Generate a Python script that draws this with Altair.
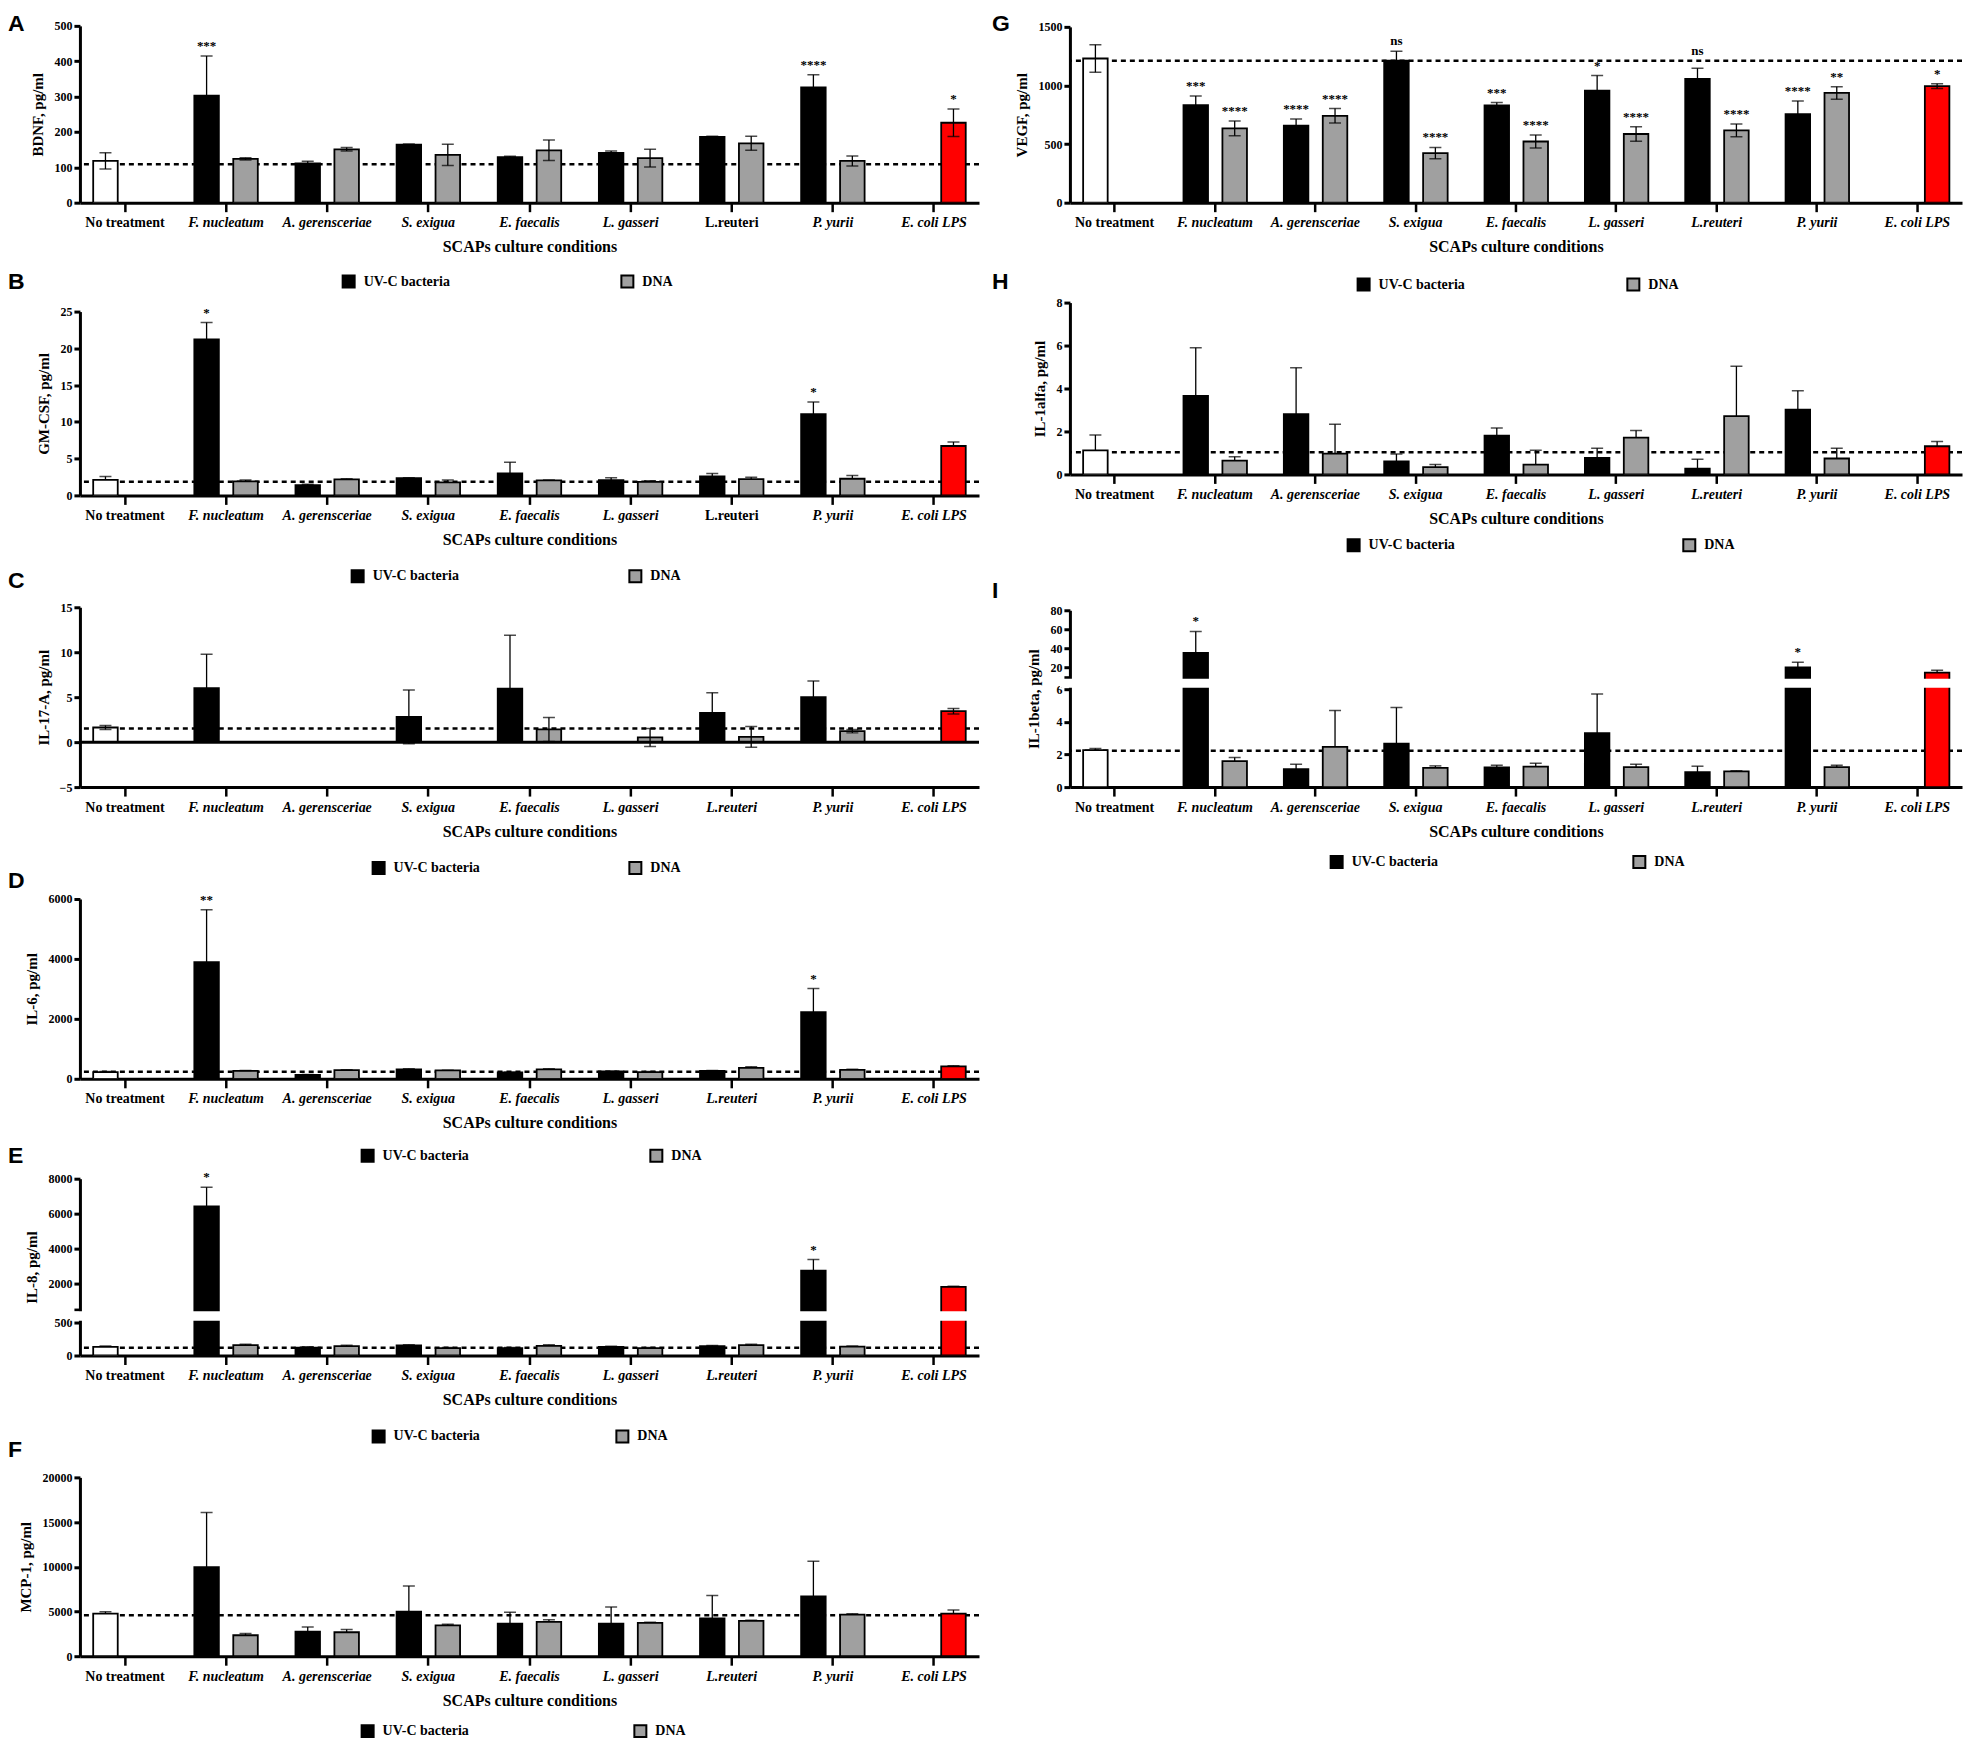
import json
import altair as alt
import pandas as pd

SERIF = "Liberation Serif"
SANS = "Liberation Sans"

CATS = ["No treatment", "F. nucleatum", "A. gerensceriae", "S. exigua", "E. faecalis",
        "L. gasseri", "L.reuteri", "P. yurii", "E. coli LPS"]
SPECIES = CATS[1:8]
SERIES = ["UV-C bacteria", "DNA", "No treatment", "LPS"]
SERIES_COLORS = ["#000000", "#a0a0a0", "#ffffff", "#ff0000"]
XTITLE = "SCAPs culture conditions"

# ---------------- A: BDNF ----------------
A_nt, A_nt_sd = 118, 23
A_uv = [303, 111, 164, 129, 141, 186, 326]
A_uv_sd = [112, 6, 2, 2, 5, 2, 36]
A_dna = [124, 151, 135, 148, 126, 168, 118]
A_dna_sd = [3, 5, 30, 29, 25, 20, 14]
A_lps, A_lps_sd = 226, 39
A_ref = 109
A_uv_sig = ["***", "", "", "", "", "", "****"]
A_dna_sig = ["", "", "", "", "", "", ""]
A_lps_sig = "*"

# ---------------- B: GM-CSF ----------------
B_nt, B_nt_sd = 2.12, 0.45
B_uv = [21.2, 1.4, 2.35, 3.0, 2.08, 2.57, 11.05]
B_uv_sd = [2.3, 0.1, 0.05, 1.5, 0.32, 0.41, 1.65]
B_dna = [1.9, 2.17, 1.76, 2.03, 1.85, 2.2, 2.26]
B_dna_sd = [0.2, 0.09, 0.32, 0.07, 0.14, 0.28, 0.44]
B_lps, B_lps_sd = 6.72, 0.55
B_ref = 1.85
B_uv_sig = ["*", "", "", "", "", "", "*"]
B_dna_sig = ["", "", "", "", "", "", ""]
B_lps_sig = ""

# ---------------- C: IL-17-A ----------------
C_nt, C_nt_sd = 1.63, 0.22
C_uv = [6.0, None, 2.81, 5.96, None, 3.26, 5.0]
C_uv_sd = [3.78, None, 3.0, 5.94, None, 2.22, 1.81]
C_dna = [None, None, None, 1.41, 0.52, 0.59, 1.22]
C_dna_sd = [None, None, None, 1.33, 1.0, 1.15, 0.19]
C_lps, C_lps_sd = 3.44, 0.3
C_ref = 1.52
C_uv_sig = ["", "", "", "", "", "", ""]
C_dna_sig = ["", "", "", "", "", "", ""]
C_lps_sig = ""

# ---------------- D: IL-6 ----------------
D_nt, D_nt_sd = 220, 25
D_uv = [3889, 133, 311, 211, 244, 267, 2222]
D_uv_sd = [1755, 11, 22, 11, 11, 11, 789]
D_dna = [267, 289, 278, 311, 222, 367, 300]
D_dna_sd = [11, 11, 11, 22, 22, 33, 22]
D_lps, D_lps_sd = 411, 22
D_ref = 233
D_uv_sig = ["**", "", "", "", "", "", "*"]
D_dna_sig = ["", "", "", "", "", "", ""]
D_lps_sig = ""

# ---------------- E: IL-8 (broken axis) ----------------
E_nt, E_nt_sd = 131, 15
E_uv = [6424, 121, 152, 111, 131, 141, 2760]
E_uv_sd = [1082, 10, 10, 10, 10, 11, 626]
E_dna = [157, 141, 111, 146, 111, 157, 136]
E_dna_sd = [15, 16, 10, 16, 10, 15, 10]
E_lps, E_lps_sd = 1830, 37
E_ref = 116
E_uv_sig = ["*", "", "", "", "", "", "*"]
E_dna_sig = ["", "", "", "", "", "", ""]
E_lps_sig = ""
E_break = [500, 538]

# ---------------- F: MCP-1 ----------------
F_nt, F_nt_sd = 4758, 223
F_uv = [9963, 2751, 4981, 3643, 3643, 4238, 6691]
F_uv_sd = [6096, 520, 2863, 1264, 1859, 2565, 3941]
F_dna = [2342, 2677, 3457, 3829, 3717, 3941, 4647]
F_dna_sd = [186, 297, 112, 260, 75, 74, 111]
F_lps, F_lps_sd = 4758, 409
F_ref = 4572
F_uv_sig = ["", "", "", "", "", "", ""]
F_dna_sig = ["", "", "", "", "", "", ""]
F_lps_sig = ""

# ---------------- G: VEGF ----------------
G_nt, G_nt_sd = 1230, 118
G_uv = [832, 657, 1212, 829, 956, 1057, 756]
G_uv_sd = [79, 56, 79, 25, 129, 90, 112]
G_dna = [634, 741, 423, 522, 586, 617, 936]
G_dna_sd = [62, 62, 48, 56, 62, 54, 54]
G_lps, G_lps_sd = 995, 20
G_ref = 1210
G_uv_sig = ["***", "****", "ns", "***", "*", "ns", "****"]
G_dna_sig = ["****", "****", "****", "****", "****", "****", "**"]
G_lps_sig = "*"
G_uv_sig_y = [None, None, None, None, None, 1207, None]

# ---------------- H: IL-1alfa ----------------
H_nt, H_nt_sd = 1.12, 0.72
H_uv = [3.66, 2.81, 0.61, 1.81, 0.77, 0.27, 3.02]
H_uv_sd = [2.24, 2.16, 0.34, 0.35, 0.45, 0.44, 0.88]
H_dna = [0.64, 0.97, 0.34, 0.46, 1.71, 2.71, 0.74]
H_dna_sd = [0.18, 1.36, 0.12, 0.67, 0.34, 2.33, 0.48]
H_lps, H_lps_sd = 1.31, 0.22
H_ref = 1.03
H_uv_sig = ["", "", "", "", "", "", ""]
H_dna_sig = ["", "", "", "", "", "", ""]
H_lps_sig = ""

# ---------------- I: IL-1beta (broken axis) ----------------
I_nt, I_nt_sd = 2.26, 0.1
I_uv = [35.4, 1.1, 2.66, 1.2, 3.31, 0.91, 20.35]
I_uv_sd = [22.5, 0.3, 2.22, 0.14, 2.4, 0.37, 5.25]
I_dna = [1.59, 2.46, 1.18, 1.26, 1.22, 0.96, 1.22]
I_dna_sd = [0.22, 2.24, 0.12, 0.2, 0.18, 0.04, 0.12]
I_lps, I_lps_sd = 14.7, 2.5
I_ref = 2.22
I_uv_sig = ["*", "", "", "", "", "", "*"]
I_dna_sig = ["", "", "", "", "", "", ""]
I_lps_sig = ""
I_break = [6, 10]


def make_df(nt, nt_sd, uv, uv_sd, dna, dna_sd, lps, lps_sd, uv_sig, dna_sig, lps_sig, uv_sig_y=None):
    rows = []

    def add(cat, series, slot, v, sd, sig, sy=None):
        if v is None:
            return
        sd = sd or 0
        rows.append(dict(cat=cat, series=series, slot=slot, v=v, lo=v - sd, hi=v + sd,
                         sig=sig, sig_y=(sy if sy is not None else v + sd)))

    add("No treatment", "No treatment", "a", nt, nt_sd, "")
    for i, c in enumerate(SPECIES):
        sy = uv_sig_y[i] if uv_sig_y else None
        add(c, "UV-C bacteria", "a", uv[i], uv_sd[i], uv_sig[i], sy)
        add(c, "DNA", "b", dna[i], dna_sd[i], dna_sig[i])
    add("E. coli LPS", "LPS", "b", lps, lps_sd, lps_sig)
    return pd.DataFrame(rows)


def panel(df, ydom, yticks, w, h, yrange, *, ytitle, legend, title, ref, normal=("No treatment",),
          zero=False, brk=None, hide_tick=None, err_both=False):
    xscale = alt.Scale(domain=CATS, paddingInner=0.23, paddingOuter=0.06)
    oscale = alt.Scale(domain=["a", "b"], paddingInner=0.37, paddingOuter=0.185)
    cond = {"condition": {"test": "indexof(%s, datum.value) >= 0" % json.dumps(list(normal)),
                          "value": "normal"}, "value": "italic"}
    xaxis = alt.Axis(title=XTITLE, labelAngle=0, labelFont=SERIF, labelFontSize=14,
                     labelFontWeight="bold", labelFontStyle=cond, labelColor="black",
                     labelPadding=4, labelLimit=0, tickSize=9, tickWidth=2.5, tickColor="black",
                     domainColor="black", domainWidth=3, titleFont=SERIF, titleFontSize=16,
                     titleFontWeight="bold", titleColor="black", titlePadding=9, grid=False)
    yaxis_kw = dict(values=yticks, grid=False, domainColor="black", domainWidth=3, tickColor="black",
                    tickWidth=3, tickSize=6, labelFont=SERIF, labelFontSize=12, labelFontWeight="bold",
                    labelColor="black", labelPadding=2, format="d",
                    title=ytitle, titleFont=SERIF, titleFontSize=15, titleFontWeight="bold",
                    titleColor="black", titlePadding=8)
    if hide_tick is not None:
        yaxis_kw.update(labelExpr="datum.value == %s ? '' : datum.label" % hide_tick)
    yaxis = alt.Axis(**yaxis_kw)
    yscale = alt.Scale(domain=ydom, range=yrange, nice=False, zero=False)

    X = alt.X("cat:N", scale=xscale, axis=xaxis)
    XO = alt.XOffset("slot:N", scale=oscale)

    lx, ly, cp = legend
    leg = alt.Legend(values=["UV-C bacteria", "DNA"], orient="none", legendX=lx, legendY=ly,
                     direction="horizontal", title=None, symbolType="square", symbolSize=144,
                     symbolStrokeColor="black", symbolStrokeWidth=2, labelFont=SERIF,
                     labelFontSize=14, labelFontWeight="bold", labelColor="black",
                     labelOffset=8, columnPadding=cp)
    color = alt.Color("series:N", scale=alt.Scale(domain=SERIES, range=SERIES_COLORS), legend=leg)

    base = alt.Chart(df)
    layers = [
        alt.Chart(pd.DataFrame({"ref": [ref]})).mark_rule(
            color="black", strokeWidth=2.5, strokeDash=[5, 4], clip=True).encode(
            y=alt.Y("ref:Q", scale=yscale, axis=yaxis)),
        base.mark_bar(stroke="black", strokeWidth=1.8, clip=True).encode(
            x=X, xOffset=XO, y=alt.Y("v:Q", scale=yscale, axis=yaxis), color=color),
        base.mark_rule(color="black", strokeWidth=1.3, clip=True).encode(
            x=X, xOffset=XO, y=alt.Y("lo:Q" if err_both else "v:Q", scale=yscale, axis=yaxis), y2="hi:Q"),
        base.mark_tick(color="black", thickness=1.5, size=12, orient="horizontal", clip=True).encode(
            x=X, xOffset=XO, y=alt.Y("hi:Q", scale=yscale, axis=yaxis)),
    ]
    if err_both:
        layers.append(base.mark_tick(color="black", thickness=1.5, size=12, orient="horizontal",
                                     clip=True).encode(
            x=X, xOffset=XO, y=alt.Y("lo:Q", scale=yscale, axis=yaxis)))
    if brk is not None:
        b0, b1 = brk
        span = b1 - b0
        gdf = pd.DataFrame({"g0": [b0 + 0.13 * span], "g1": [b1 - 0.13 * span]})
        layers.append(alt.Chart(gdf).mark_rect(color="white").encode(
            x=alt.value(-10), x2=alt.value(w + 2),
            y=alt.Y("g0:Q", scale=yscale, axis=yaxis), y2="g1:Q"))
    if zero:
        layers.append(alt.Chart(pd.DataFrame({"z": [0]})).mark_rule(
            color="black", strokeWidth=3).encode(y=alt.Y("z:Q", scale=yscale, axis=yaxis)))
    sdf = df[df["sig"] != ""]
    if len(sdf):
        layers.append(alt.Chart(sdf).mark_text(font=SERIF, fontSize=13, fontWeight="bold", color="black",
                                               baseline="middle", dy=-10).encode(
            x=X, xOffset=XO, y=alt.Y("sig_y:Q", scale=yscale, axis=yaxis), text="sig:N"))
    letter, dx, dy = title
    return alt.layer(*layers).properties(
        width=w, height=h,
        title=alt.TitleParams(text=letter, anchor="start", frame="group", font=SANS,
                              fontSize=23, fontWeight="bold", color="black",
                              offset=0, dx=dx, dy=dy))


WL = 900
WR = 893
LDX = -72
RDX = -78

dfA = make_df(A_nt, A_nt_sd, A_uv, A_uv_sd, A_dna, A_dna_sd, A_lps, A_lps_sd, A_uv_sig, A_dna_sig, A_lps_sig)
dfB = make_df(B_nt, B_nt_sd, B_uv, B_uv_sd, B_dna, B_dna_sd, B_lps, B_lps_sd, B_uv_sig, B_dna_sig, B_lps_sig)
dfC = make_df(C_nt, C_nt_sd, C_uv, C_uv_sd, C_dna, C_dna_sd, C_lps, C_lps_sd, C_uv_sig, C_dna_sig, C_lps_sig)
dfD = make_df(D_nt, D_nt_sd, D_uv, D_uv_sd, D_dna, D_dna_sd, D_lps, D_lps_sd, D_uv_sig, D_dna_sig, D_lps_sig)
dfE = make_df(E_nt, E_nt_sd, E_uv, E_uv_sd, E_dna, E_dna_sd, E_lps, E_lps_sd, E_uv_sig, E_dna_sig, E_lps_sig)
dfF = make_df(F_nt, F_nt_sd, F_uv, F_uv_sd, F_dna, F_dna_sd, F_lps, F_lps_sd, F_uv_sig, F_dna_sig, F_lps_sig)
dfG = make_df(G_nt, G_nt_sd, G_uv, G_uv_sd, G_dna, G_dna_sd, G_lps, G_lps_sd, G_uv_sig, G_dna_sig, G_lps_sig,
              G_uv_sig_y)
dfH = make_df(H_nt, H_nt_sd, H_uv, H_uv_sd, H_dna, H_dna_sd, H_lps, H_lps_sd, H_uv_sig, H_dna_sig, H_lps_sig)
dfI = make_df(I_nt, I_nt_sd, I_uv, I_uv_sd, I_dna, I_dna_sd, I_lps, I_lps_sd, I_uv_sig, I_dna_sig, I_lps_sig)

pA = panel(dfA, [0, 500], [0, 100, 200, 300, 400, 500], WL, 177, [177, 0], ytitle="BDNF, pg/ml",
           normal=("No treatment", "L.reuteri"), legend=(262, 249, 167), ref=A_ref, title=("A", LDX, 16),
           err_both=True)
pB = panel(dfB, [0, 25], [0, 5, 10, 15, 20, 25], WL, 193, [193, 9], ytitle="GM-CSF, pg/ml",
           normal=("No treatment", "L.reuteri"), legend=(271, 267, 166), ref=B_ref, title=("B", LDX, -9))
pC = panel(dfC, [-5, 15], [-5, 0, 5, 10, 15], WL, 192, [192, 12], ytitle="IL-17-A, pg/ml",
           legend=(292, 266, 145), ref=C_ref, zero=True, title=("C", LDX, -2), err_both=True)
pD = panel(dfD, [0, 6000], [0, 2000, 4000, 6000], WL, 192, [192, 12], ytitle="IL-6, pg/ml",
           legend=(281, 262, 177), ref=D_ref, title=("D", LDX, 6))
pE = panel(dfE, [0, E_break[0], E_break[1], 8000], [0, 500, 538, 2000, 4000, 6000, 8000], WL, 177,
           [177, 144, 131, 0], brk=E_break, hide_tick=538, ytitle="IL-8, pg/ml",
           legend=(292, 251, 132), ref=E_ref, title=("E", LDX, -3))
pF = panel(dfF, [0, 20000], [0, 5000, 10000, 15000, 20000], WL, 201, [201, 22], ytitle="MCP-1, pg/ml",
           legend=(281, 269, 161), ref=F_ref, title=("F", LDX, 7))

pG = panel(dfG, [0, 1500], [0, 500, 1000, 1500], WR, 177, [177, 1], ytitle="VEGF,  pg/ml",
           legend=(287, 252, 158), ref=G_ref, title=("G", RDX, 15), err_both=True)
pH = panel(dfH, [0, 8], [0, 2, 4, 6, 8], WR, 172, [172, 0], ytitle="IL-1alfa, pg/ml",
           legend=(277, 236, 224), ref=H_ref, title=("H", RDX, -3))
pI = panel(dfI, [0, I_break[0], I_break[1], 80], [0, 2, 4, 6, 10, 20, 40, 60, 80], WR, 192,
           [192, 94, 82, 15], brk=I_break, hide_tick=10, ytitle="IL-1beta, pg/ml",
           legend=(260, 260, 191), ref=I_ref, title=("I", RDX, 8))


def filler():
    return alt.Chart(pd.DataFrame({"a": [0]})).mark_point(opacity=0).encode(
        x=alt.X("a:Q", axis=None), y=alt.Y("a:Q", axis=None)).properties(width=10, height=10)


chart = alt.concat(pA, pG, pB, pH, pC, pI, pD, filler(), pE, filler(), pF,
                   columns=2, spacing={"row": 100, "column": 91}, bounds="flush").resolve_scale(
    color="independent").resolve_legend(color="independent").properties(
    padding={"left": 0, "top": 4, "right": 0, "bottom": 0}, background="white"
).configure_view(stroke=None)

chart.save("out.html", embed_options={"renderer": "svg", "actions": False})
